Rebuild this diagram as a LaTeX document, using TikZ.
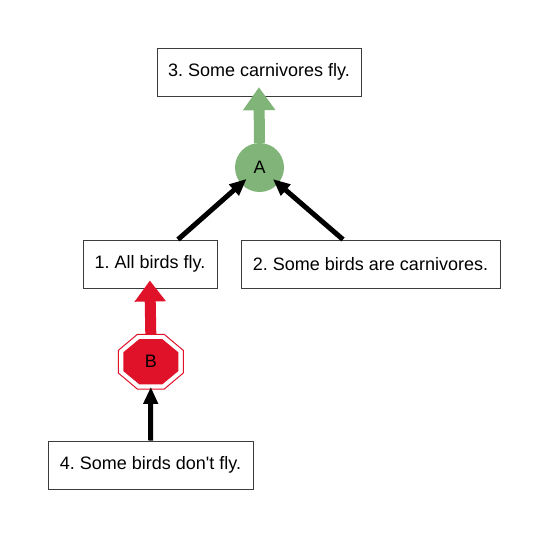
\documentclass[tikz,border=0pt]{standalone}
\usepackage{fontspec}
\newfontfamily\gvfont{Liberation Sans}
\usetikzlibrary{arrows.meta,calc}
\definecolor{agreen}{RGB}{128,180,120}
\definecolor{bred}{RGB}{224,18,42}
\definecolor{boxline}{RGB}{60,60,60}
\frenchspacing
\begin{document}
\begin{tikzpicture}[x=1pt,y=-1pt,
  stmt/.style={draw=boxline,line width=1pt,fill=white,minimum height=48pt,inner sep=0pt,font=\gvfont\fontsize{18pt}{21pt}\selectfont},
  blackarrow/.style={line width=5pt,-{Triangle[length=17pt,width=14pt]}},
  greenarrow/.style={agreen,line width=11pt,-{Triangle[length=23pt,width=31pt]}},
  redarrow/.style={bred,line width=11pt,-{Triangle[length=21pt,width=30pt]}},
  lbl/.style={font=\gvfont\fontsize{18pt}{21pt}\selectfont}]
\useasboundingbox (0,0) rectangle (548,538);
% statements
\node[stmt,minimum width=204pt] (n3) at (259,72) {3. Some carnivores fly.};
\node[stmt,minimum width=134pt] (n1) at (150,264) {1. All birds fly.};
\node[stmt,minimum width=259pt] (n2) at (370.5,264) {2. Some birds are carnivores.};
\node[stmt,minimum width=205pt] (n4) at (150.5,465) {4. Some birds don't fly.};
% A node
\node[circle,fill=agreen,minimum size=49pt,inner sep=0pt,lbl] (A) at (259.5,167.5) {A};
% B node (octagon drawn explicitly)
\node[rectangle,minimum width=65pt,minimum height=54.6pt,inner sep=0pt] (B) at (150.8,361.7) {};
\path[draw=bred,line width=1pt,fill=white]
  ($(B)+(-13.5,-27.3)$) -- ($(B)+(13.5,-27.3)$) -- ($(B)+(32.5,-11.3)$) -- ($(B)+(32.5,11.3)$)
  -- ($(B)+(13.5,27.3)$) -- ($(B)+(-13.5,27.3)$) -- ($(B)+(-32.5,11.3)$) -- ($(B)+(-32.5,-11.3)$) -- cycle;
\path[fill=bred]
  ($(B)+(-11.4,-22.7)$) -- ($(B)+(11.4,-22.7)$) -- ($(B)+(27.5,-9.4)$) -- ($(B)+(27.5,9.4)$)
  -- ($(B)+(11.4,22.7)$) -- ($(B)+(-11.4,22.7)$) -- ($(B)+(-27.5,9.4)$) -- ($(B)+(-27.5,-9.4)$) -- cycle;
\node[lbl] (Blabel) at (B) {B};
% connectors
\draw[greenarrow] (A.north) -- (n3.south) [shorten >=-9.3pt];
\draw[blackarrow] ([xshift=28pt]n1.north) -- (A) [shorten >=-7.5pt];
\draw[blackarrow] ([xshift=-27.5pt]n2.north) -- (A) [shorten >=-7pt];
\draw[redarrow] (B.north) -- (n1.south) [shorten >=-8pt];
\draw[blackarrow] (n4.north) -- (B.south) [shorten >=-2.3pt];
\end{tikzpicture}
\end{document}
